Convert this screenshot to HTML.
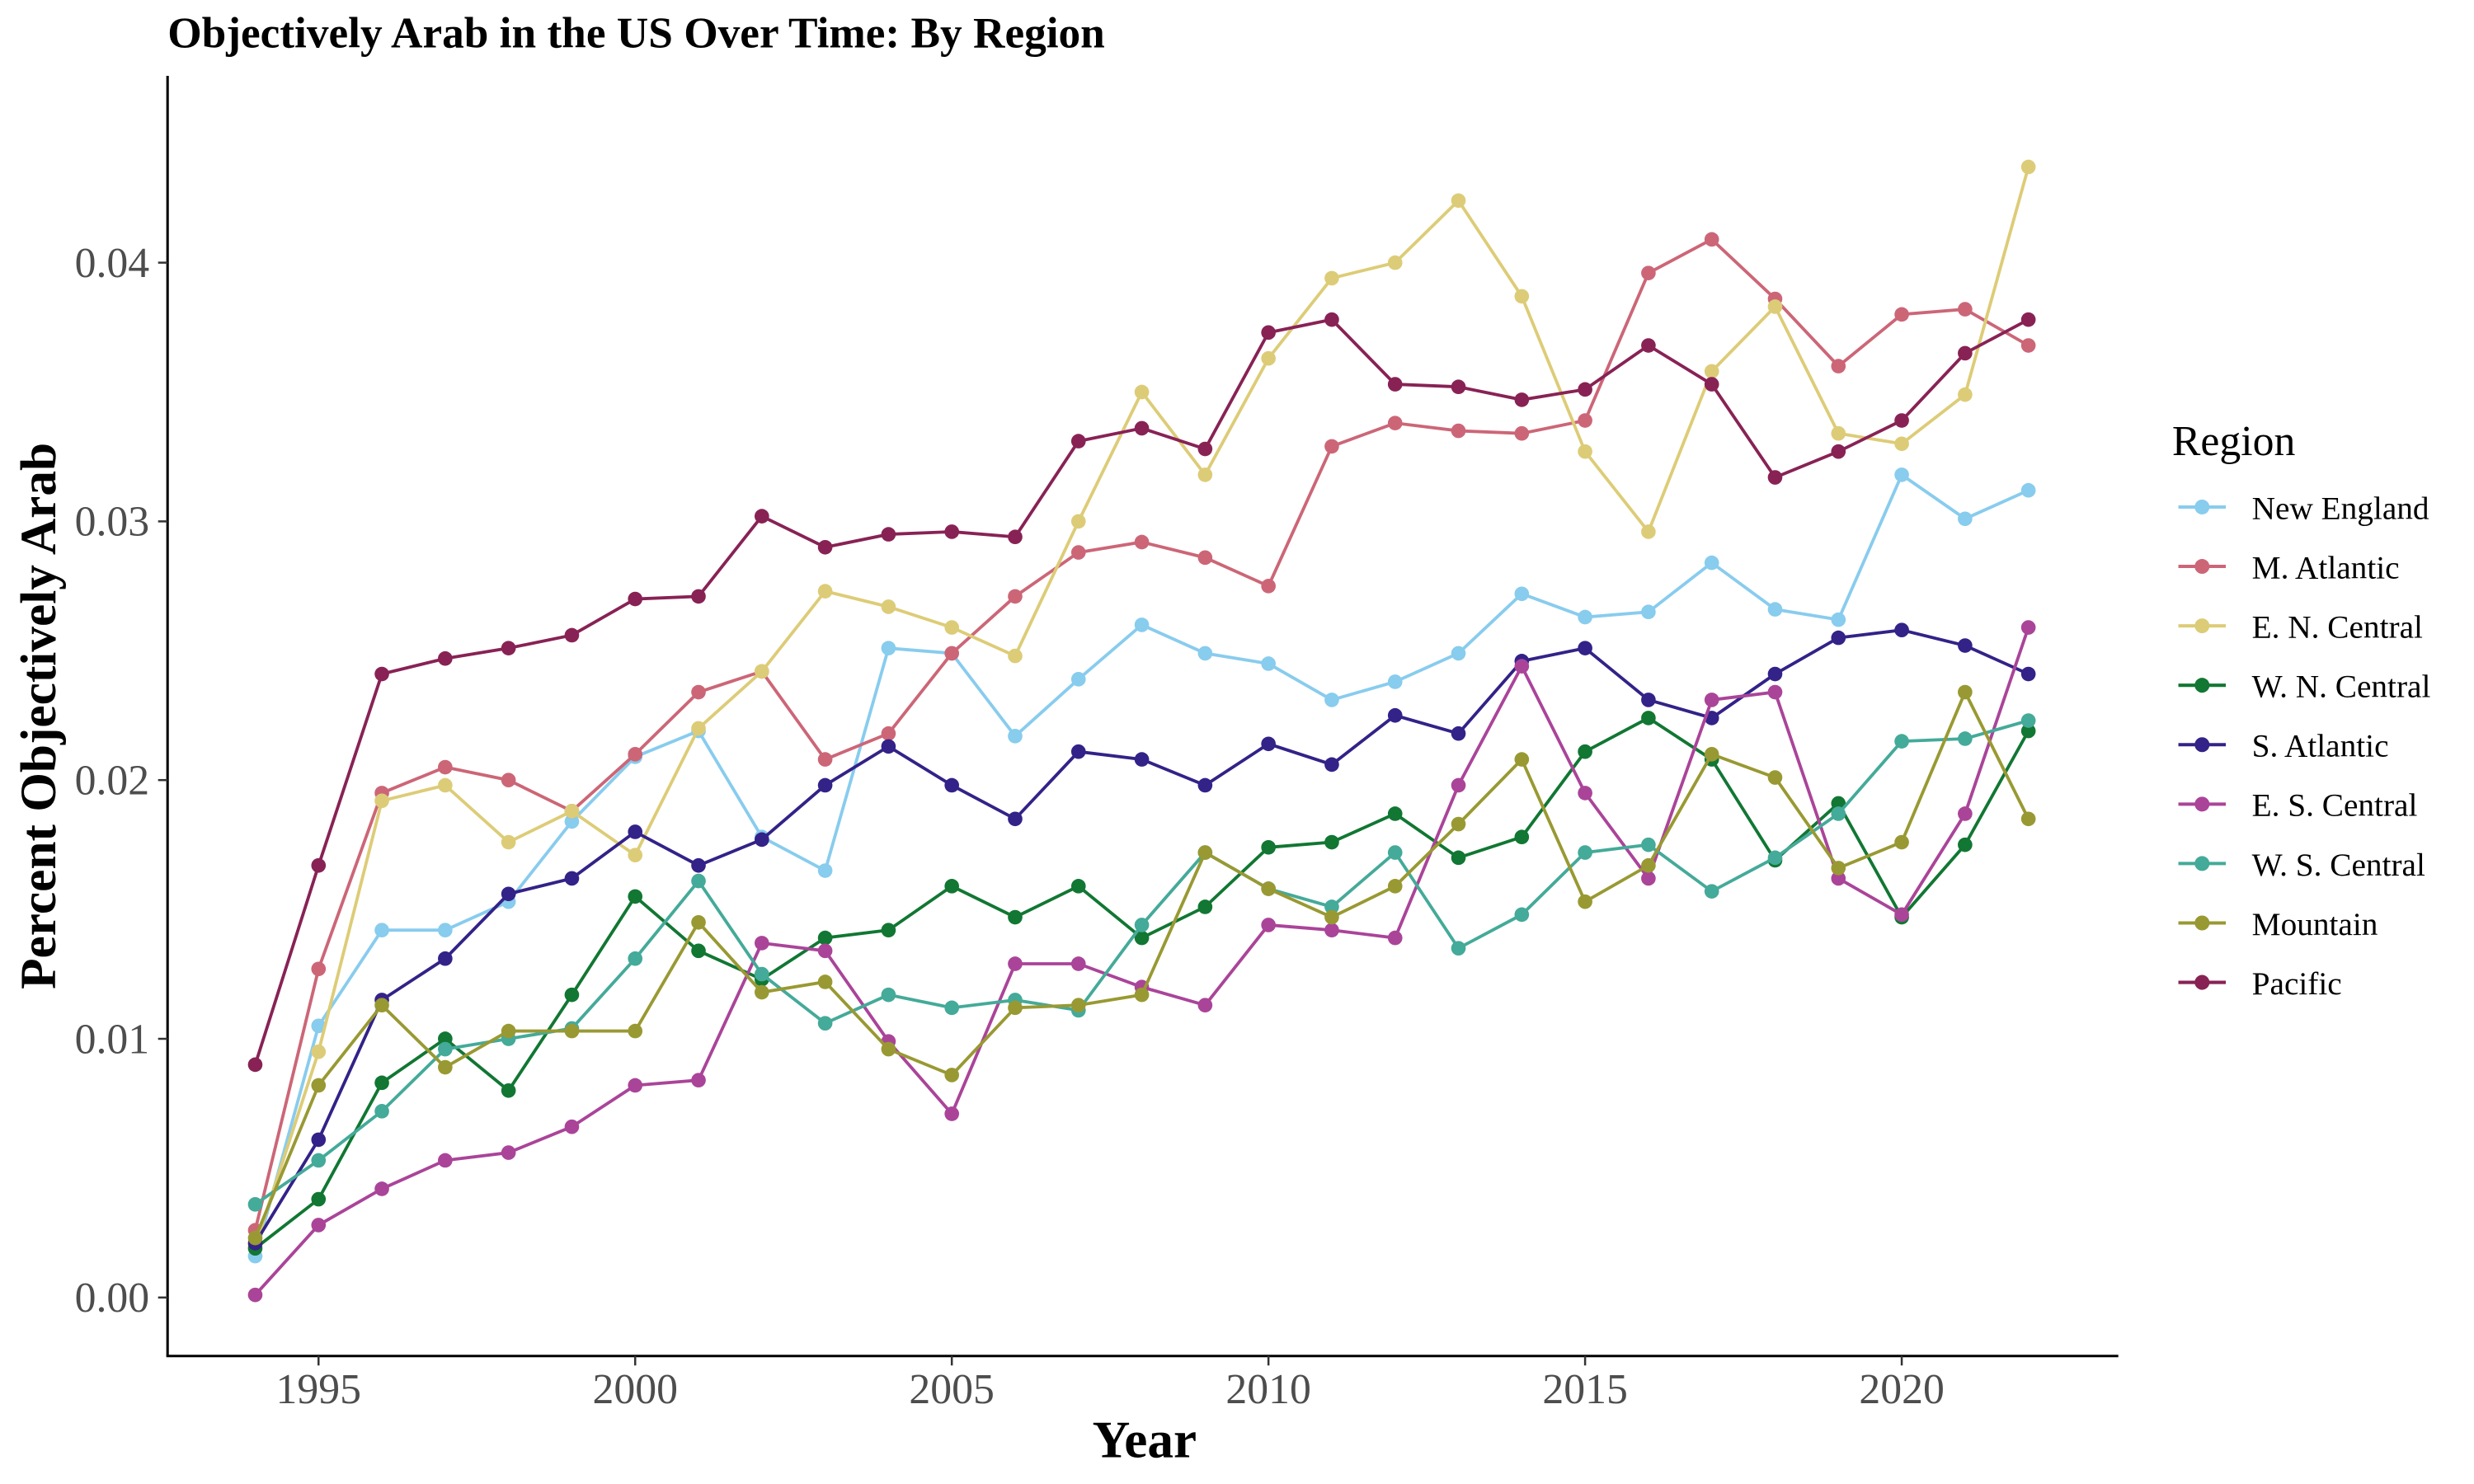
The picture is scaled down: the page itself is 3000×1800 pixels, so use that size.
<!DOCTYPE html>
<html><head><meta charset="utf-8"><style>
html,body{margin:0;padding:0;background:#fff;}
svg{display:block;font-family:"Liberation Serif",serif;}
</style></head><body>
<svg id="chart" width="3000" height="1800" viewBox="0 0 1565 939" xmlns="http://www.w3.org/2000/svg">
<text x="106" y="30" font-size="27.8" font-weight="bold" fill="#000">Objectively Arab in the US Over Time: By Region</text>
<g id="plot"></g>
<g id="axes"></g>
<g id="legend">
<text x="1374" y="288" font-size="27" fill="#000">Region</text>
</g>
<text x="724" y="922" font-size="33" font-weight="bold" text-anchor="middle">Year</text>
<text transform="translate(35,453) rotate(-90)" font-size="32" font-weight="bold" text-anchor="middle">Percent Objectively Arab</text>
</svg>
<script>
const years = [1994,1995,1996,1997,1998,1999,2000,2001,2002,2003,2004,2005,2006,2007,2008,2009,2010,2011,2012,2013,2014,2015,2016,2017,2018,2019,2020,2021,2022];
const regionNames = ["New England","M. Atlantic","E. N. Central","W. N. Central","S. Atlantic","E. S. Central","W. S. Central","Mountain","Pacific"];
const regionColors = ["#88ccee","#cc6677","#ddcc77","#117733","#332288","#aa4499","#44aa99","#999933","#882255"];
const newEngland = [.0016,.0105,.0142,.0142,.0153,.0184,.0209,.0219,.0178,.0165,.0251,.0249,.0217,.0239,.0260,.0249,.0245,.0231,.0238,.0249,.0272,.0263,.0265,.0284,.0266,.0262,.0318,.0301,.0312];
const mAtlantic = [.0026,.0127,.0195,.0205,.0200,.0188,.0210,.0234,.0242,.0208,.0218,.0249,.0271,.0288,.0292,.0286,.0275,.0329,.0338,.0335,.0334,.0339,.0396,.0409,.0386,.0360,.0380,.0382,.0368];
const enCentral = [.0020,.0095,.0192,.0198,.0176,.0188,.0171,.0220,.0242,.0273,.0267,.0259,.0248,.0300,.0350,.0318,.0363,.0394,.0400,.0424,.0387,.0327,.0296,.0358,.0383,.0334,.0330,.0349,.0437];
const wnCentral = [.0019,.0038,.0083,.0100,.0080,.0117,.0155,.0134,.0123,.0139,.0142,.0159,.0147,.0159,.0139,.0151,.0174,.0176,.0187,.0170,.0178,.0211,.0224,.0208,.0169,.0191,.0147,.0175,.0219];
const sAtlantic = [.0021,.0061,.0115,.0131,.0156,.0162,.0180,.0167,.0177,.0198,.0213,.0198,.0185,.0211,.0208,.0198,.0214,.0206,.0225,.0218,.0246,.0251,.0231,.0224,.0241,.0255,.0258,.0252,.0241];
const esCentral = [.0001,.0028,.0042,.0053,.0056,.0066,.0082,.0084,.0137,.0134,.0099,.0071,.0129,.0129,.0120,.0113,.0144,.0142,.0139,.0198,.0244,.0195,.0162,.0231,.0234,.0162,.0148,.0187,.0259];
const wsCentral = [.0036,.0053,.0072,.0096,.0100,.0104,.0131,.0161,.0125,.0106,.0117,.0112,.0115,.0111,.0144,.0172,.0158,.0151,.0172,.0135,.0148,.0172,.0175,.0157,.0170,.0187,.0215,.0216,.0223];
const mountain = [.0023,.0082,.0113,.0089,.0103,.0103,.0103,.0145,.0118,.0122,.0096,.0086,.0112,.0113,.0117,.0172,.0158,.0147,.0159,.0183,.0208,.0153,.0167,.0210,.0201,.0166,.0176,.0234,.0185];
const pacific = [.0090,.0167,.0241,.0247,.0251,.0256,.0270,.0271,.0302,.0290,.0295,.0296,.0294,.0331,.0336,.0328,.0373,.0378,.0353,.0352,.0347,.0351,.0368,.0353,.0317,.0327,.0339,.0365,.0378];
const xTicks = [1995,2000,2005,2010,2015,2020];
const yTicks = [0,0.01,0.02,0.03,0.04];
const yTickLabels = ["0.00","0.01","0.02","0.03","0.04"];

const series = [newEngland,mAtlantic,enCentral,wnCentral,sAtlantic,esCentral,wsCentral,mountain,pacific];
const NS="http://www.w3.org/2000/svg";
function xs(v){return 201.5+(v-1995)*40.06;}
function ys(v){return 821-v*16370;}
function mk(tag,attrs,parent){const e=document.createElementNS(NS,tag);for(const k in attrs)e.setAttribute(k,attrs[k]);parent.appendChild(e);return e;}
const plot=document.getElementById('plot'),axes=document.getElementById('axes'),legend=document.getElementById('legend');
let al=mk('line',{x1:106,y1:48,x2:106,y2:858,stroke:'#000','stroke-width':1.6},axes);


let bl=mk('line',{x1:105.2,y1:858,x2:1340,y2:858,stroke:'#000','stroke-width':1.6},axes);


xTicks.forEach(t=>{
 const tk=mk('line',{x1:xs(t),y1:858,x2:xs(t),y2:864,stroke:'#333','stroke-width':1.3},axes);
 
 
 const tx=mk('text',{x:xs(t),y:888,'font-size':27,fill:'#4d4d4d','text-anchor':'middle'},axes);
 tx.textContent=t;
 
 
});
yTicks.forEach((t,i)=>{
 const tk=mk('line',{x1:100,y1:ys(t),x2:106,y2:ys(t),stroke:'#333','stroke-width':1.3},axes);
 
 
 const tx=mk('text',{x:94.5,y:ys(t)+9,'font-size':27,fill:'#4d4d4d','text-anchor':'end'},axes);
 tx.textContent=yTickLabels[i];
 
 
});
series.forEach((s,si)=>{
 const g=mk('g',{},plot);
 
 
 const pts=s.map((v,i)=>xs(years[i])+','+ys(v)).join(' ');
 const pl=mk('polyline',{points:pts,fill:'none',stroke:regionColors[si],'stroke-width':2},g);
 
 
 s.forEach((v,i)=>{
  const c=mk('circle',{cx:xs(years[i]),cy:ys(v),r:4.6,fill:regionColors[si]},g);
  
  
 });
 const y=320.8+si*37.6;
 const lg=mk('g',{},legend);
 
 
 mk('line',{x1:1378,y1:y,x2:1408,y2:y,stroke:regionColors[si],'stroke-width':2.1},lg);
 mk('circle',{cx:1393,cy:y,r:4.7,fill:regionColors[si]},lg);
 const t=mk('text',{x:1424.5,y:y+7.5,'font-size':20.5,fill:'#000'},lg);
 t.textContent=regionNames[si];
});
</script>
</body></html>
